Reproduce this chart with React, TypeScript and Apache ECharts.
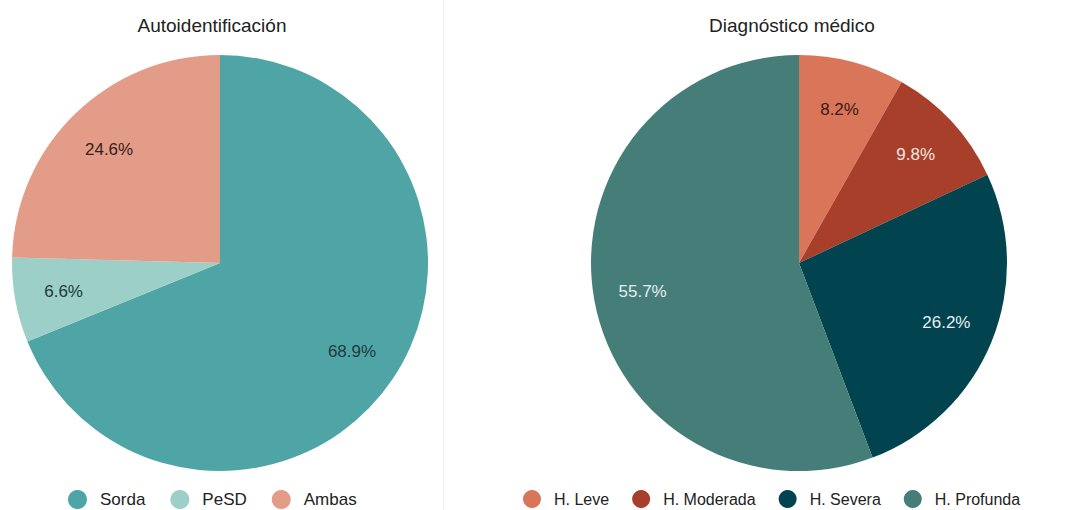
import React, { useEffect, useRef } from "react";
import * as echarts from "echarts";

const leftTitle = "Autoidentificación";
const rightTitle = "Diagnóstico médico";
const leftNames = ["Sorda", "PeSD", "Ambas"];
const leftValues = [68.9, 6.6, 24.6];
const leftColors = ["#4fa5a6", "#9bcfc8", "#e29c88"];
const leftLabelColors = ["#1f3a3a", "#1f3a3a", "#3a2018"];
const rightNames = ["H. Leve", "H. Moderada", "H. Severa", "H. Profunda"];
const rightValues = [8.2, 9.8, 26.2, 55.7];
const rightColors = ["#d9765a", "#a83f2a", "#01434f", "#457d79"];
const rightLabelColors = ["#3a1a10", "#f2e6e2", "#e6eeee", "#e6eeee"];

const FONT = "'Liberation Sans', Arial, sans-serif";
const R = 208;

function makeData(names: string[], values: number[], colors: string[]) {
  return names.map((n, i) => ({ name: n, value: values[i], itemStyle: { color: colors[i] } }));
}
function makeLabelData(names: string[], values: number[], labelColors: string[]) {
  return names.map((n, i) => ({
    name: n,
    value: values[i],
    label: { color: labelColors[i] },
  }));
}

export default function App() {
  const ref = useRef<HTMLDivElement>(null);
  useEffect(() => {
    if (!ref.current) return;
    const chart = echarts.init(ref.current, null, { renderer: "svg" });
    const pieBase = (cx: number) => ({
      type: "pie",
      center: [cx, 263],
      startAngle: 90,
      clockwise: true,
      animation: false,
      silent: true,
    });
    chart.setOption({
      animation: false,
      title: [
        { text: leftTitle, left: 212, top: 16, padding: 0, textAlign: "center", textStyle: { fontFamily: FONT, fontSize: 19, fontWeight: "normal", color: "#222" } },
        { text: rightTitle, left: 792, top: 16, padding: 0, textAlign: "center", textStyle: { fontFamily: FONT, fontSize: 19, fontWeight: "normal", color: "#222" } },
      ],
      legend: [
        {
          data: leftNames,
          left: 68,
          top: 490,
          padding: 0,
          icon: "circle",
          itemWidth: 19,
          itemHeight: 19,
          itemGap: 25,
          textStyle: { fontFamily: FONT, fontSize: 17, color: "#222", padding: [0, 0, 0, 8] },
        },
        {
          data: rightNames,
          left: 523,
          top: 490,
          padding: 0,
          icon: "circle",
          itemWidth: 18,
          itemHeight: 18,
          itemGap: 23,
          textStyle: { fontFamily: FONT, fontSize: 16, color: "#222", padding: [0, 0, 0, 8] },
        },
      ],
      graphic: [
        { type: "line", shape: { x1: 443.5, y1: 0, x2: 443.5, y2: 510 }, style: { stroke: "#f3f3f3", lineWidth: 1 } },
      ],
      series: [
        { ...pieBase(220), name: "left", radius: [0, R], label: { show: false }, labelLine: { show: false }, itemStyle: { borderWidth: 0 }, data: makeData(leftNames, leftValues, leftColors) },
        { ...pieBase(799), name: "right", radius: [0, R], label: { show: false }, labelLine: { show: false }, itemStyle: { borderWidth: 0 }, data: makeData(rightNames, rightValues, rightColors) },
        {
          ...pieBase(220), name: "leftLabels", radius: [R * 0.5, R],
          itemStyle: { color: "rgba(0,0,0,0)" },
          label: { show: true, position: "inside", formatter: (p: any) => p.value.toFixed(1) + "%", fontFamily: FONT, fontSize: 17 },
          labelLine: { show: false },
          data: makeLabelData(leftNames, leftValues, leftLabelColors),
        },
        {
          ...pieBase(799), name: "rightLabels", radius: [R * 0.5, R],
          itemStyle: { color: "rgba(0,0,0,0)" },
          label: { show: true, position: "inside", formatter: (p: any) => p.value.toFixed(1) + "%", fontFamily: FONT, fontSize: 17 },
          labelLine: { show: false },
          data: makeLabelData(rightNames, rightValues, rightLabelColors),
        },
      ],
    });
    return () => chart.dispose();
  }, []);
  return <div ref={ref} style={{ width: 1078, height: 510, position: "absolute", left: 0, top: 0 }} />;
}
